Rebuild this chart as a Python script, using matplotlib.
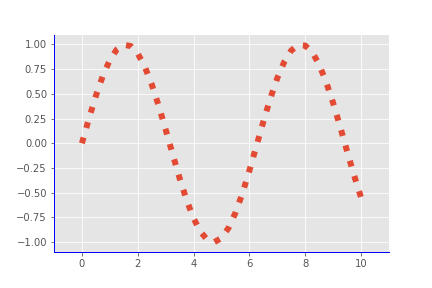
import matplotlib
matplotlib.use('Agg')
import matplotlib.pyplot as plt

plt.style.use('ggplot')

# values
x = [0, 0.25, 0.5, 0.75, 1.0, 1.25, 1.5, 1.75, 2.0, 2.25, 2.5, 2.75, 3.0, 3.25,
     3.5, 3.75, 4.0, 4.25, 4.5, 4.75, 5.0, 5.25, 5.5, 5.75, 6.0, 6.25, 6.5,
     6.75, 7.0, 7.25, 7.5, 7.75, 8.0, 8.25, 8.5, 8.75, 9.0, 9.25, 9.5, 9.75, 10.0]
y = [0.0, 0.247, 0.479, 0.682, 0.841, 0.949, 0.997, 0.984, 0.909, 0.778, 0.598,
     0.382, 0.141, -0.108, -0.351, -0.572, -0.757, -0.895, -0.978, -0.999,
     -0.959, -0.859, -0.706, -0.510, -0.279, -0.033, 0.215, 0.451, 0.657,
     0.822, 0.938, 0.994, 0.989, 0.925, 0.798, 0.624, 0.412, 0.174, -0.075,
     -0.319, -0.544]

fig, ax = plt.subplots(figsize=(6, 4), dpi=72)
fig.subplots_adjust(bottom=0.125)
ax.plot(x, y, ':', linewidth=6, color='#E24A33')
ax.set_xlim(-1, 11)
ax.set_ylim(-1.1, 1.1)

ax.spines['top'].set_visible(False)
ax.spines['right'].set_visible(False)
ax.spines['left'].set_visible(True)
ax.spines['bottom'].set_visible(True)
ax.spines['left'].set_color('blue')
ax.spines['bottom'].set_color('blue')

fig.savefig('out.png', dpi=72)
